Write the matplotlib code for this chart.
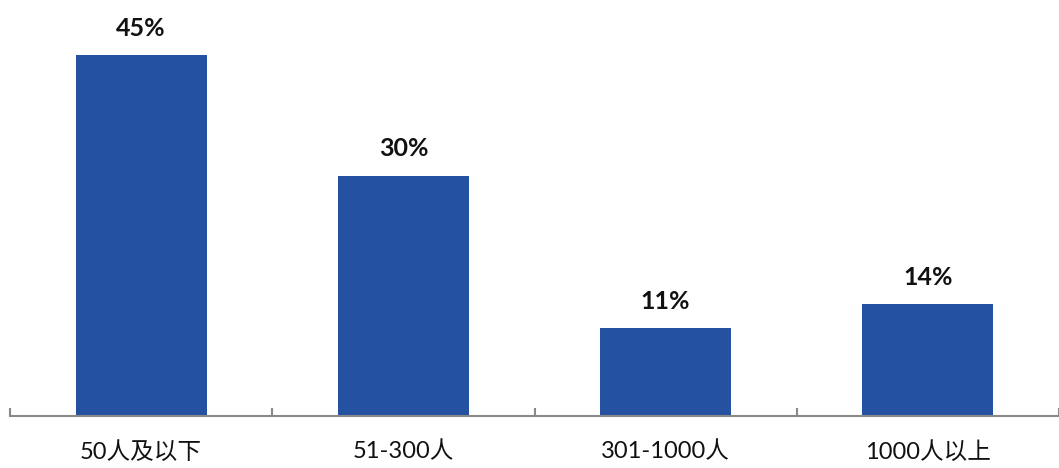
import matplotlib

matplotlib.use('Agg')
import matplotlib.pyplot as plt
import numpy as np

plt.rcParams['font.family'] = ['Lato', 'Noto Sans CJK SC', 'DejaVu Sans']

categories = ['50人及以下', '51-300人', '301-1000人', '1000人以上']
values = [45, 30, 11, 14]
labels = ['45%', '30%', '11%', '14%']

fig = plt.figure(figsize=(10.59, 4.68), dpi=100)
ax = fig.add_axes([10 / 1059, 52 / 468, 1 - 10 / 1059, 416 / 468])

x = np.arange(len(categories))
ax.bar(x, values, width=0.5, color='#2451A0', zorder=2)

for xi, v, lab in zip(x, values, labels):
    ax.annotate(lab, (xi, v), xytext=(0, 11), textcoords='offset points',
                ha='center', va='bottom', fontsize=18, fontweight='bold',
                color='#111111')

ax.set_xlim(-0.5, 3.48)
ax.set_ylim(0, 51.9)
ax.set_yticks([])
ax.set_xticks(x)
ax.set_xticklabels(categories, fontsize=17, color='#111111')
ax.tick_params(axis='x', length=0, pad=18)
ax.set_xticks(np.arange(-0.5, 4, 1), minor=True)
ax.tick_params(axis='x', which='minor', direction='in', length=6,
               width=1.5, color='#898989')

for s in ['top', 'right', 'left']:
    ax.spines[s].set_visible(False)
ax.spines['bottom'].set_color('#898989')
ax.spines['bottom'].set_linewidth(1.5)

fig.savefig('out.png', dpi=100, facecolor='w')
plt.close(fig)
